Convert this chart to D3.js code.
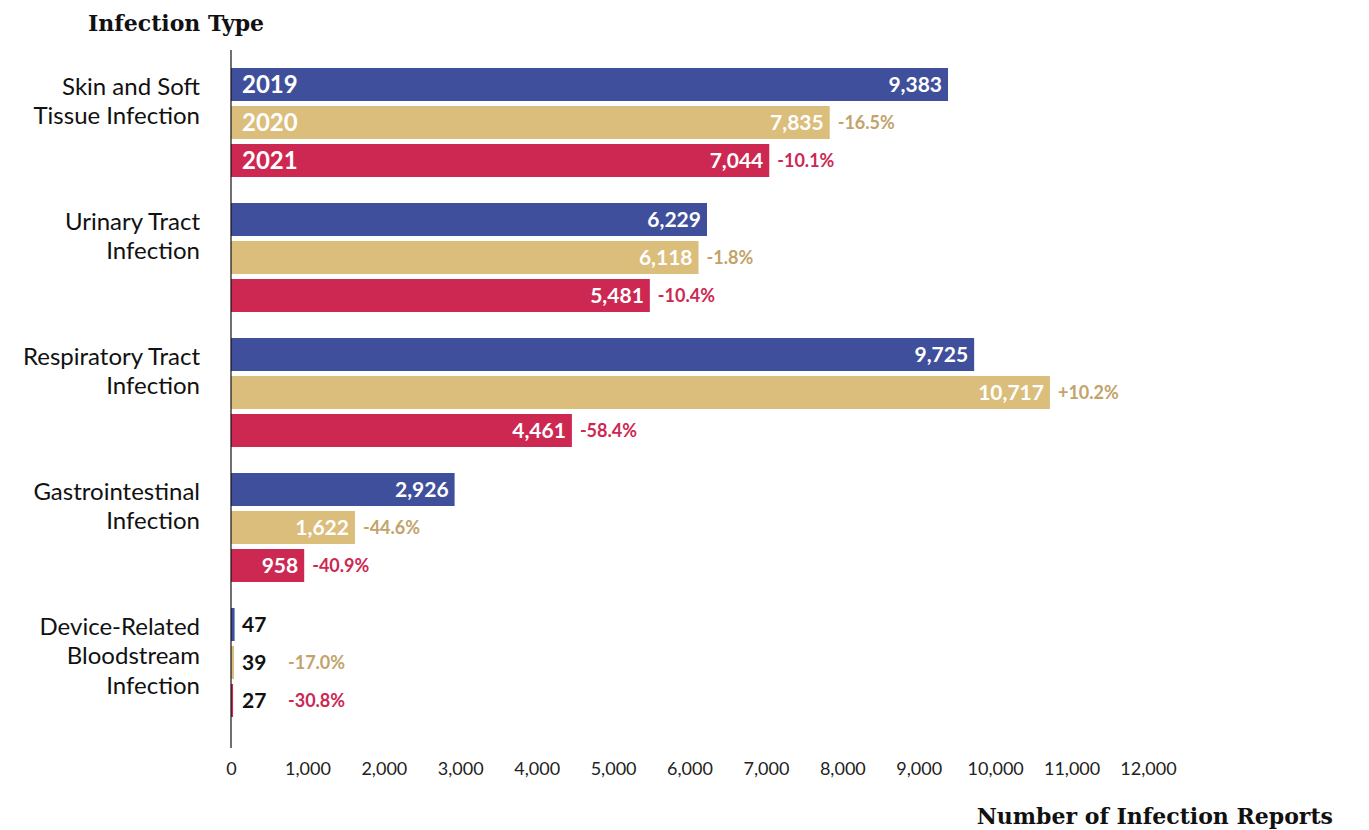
<!DOCTYPE html>
<html>
<head>
<meta charset="utf-8">
<script src="https://cdn.jsdelivr.net/npm/d3@7"></script>
<style>
  body { margin: 0; background: #fff; }
  text { font-family: Lato, "Open Sans", sans-serif; }
</style>
</head>
<body>
<div id="chart"></div>
<script>
// Chart data
var categories = [
  "Skin and Soft|Tissue Infection",
  "Urinary Tract|Infection",
  "Respiratory Tract|Infection",
  "Gastrointestinal|Infection",
  "Device-Related|Bloodstream|Infection"
];
var years = ["2019", "2020", "2021"];
var values2019 = [9383, 6229, 9725, 2926, 47];
var values2020 = [7835, 6118, 10717, 1622, 39];
var values2021 = [7044, 5481, 4461, 958, 27];
var xTicks = [0, 1000, 2000, 3000, 4000, 5000, 6000, 7000, 8000, 9000, 10000, 11000, 12000];

var barColors = { "2019": "#3f4f9c", "2020": "#dbbd7c", "2021": "#cc2852" };
var pctColors = { "2020": "#c2a36a", "2021": "#cc2852" };

var width = 1369, height = 830;

var svg = d3.select("#chart").append("svg")
  .attr("width", width)
  .attr("height", height);

// Scales
var x = d3.scaleLinear().domain([0, 12000]).range([231, 1148]);
var y0 = d3.scaleBand().domain(d3.range(categories.length)).range([68, 743]).padding(0);
var y1 = d3.scaleBand().domain(years).range([0, 109]).paddingInner(5 / 38).paddingOuter(0);

var series = [values2019, values2020, values2021];
var fmt = d3.format(",");

// Build rows
var rows = [];
categories.forEach(function(c, i) {
  years.forEach(function(yr, j) {
    var prev = j > 0 ? series[j - 1][i] : null;
    rows.push({
      cat: i,
      year: yr,
      value: series[j][i],
      pct: prev === null ? null : (series[j][i] - prev) / prev
    });
  });
});

// Bars
var bar = svg.append("g").selectAll("g")
  .data(rows)
  .enter()
  .append("g")
  .attr("transform", function(d) { return "translate(0," + (y0(d.cat) + y1(d.year)) + ")"; });

bar.append("rect")
  .attr("x", x(0))
  .attr("y", 0)
  .attr("width", function(d) { return Math.max(2, x(d.value) - x(0)); })
  .attr("height", y1.bandwidth())
  .attr("fill", function(d) { return barColors[d.year]; });

// Year labels in first group
bar.filter(function(d) { return d.cat === 0; })
  .append("text")
  .attr("x", x(0) + 11)
  .attr("y", y1.bandwidth() / 2)
  .attr("dy", "0.36em")
  .attr("fill", "#fff")
  .style("font-size", "24px")
  .style("font-weight", 700)
  .text(function(d) { return d.year; });

// Value labels
var inside = function(d) { return d.value > 500; };
bar.append("text")
  .attr("x", function(d) { return inside(d) ? x(d.value) - 6 : x(0) + 11; })
  .attr("y", y1.bandwidth() / 2)
  .attr("dy", "0.36em")
  .attr("text-anchor", function(d) { return inside(d) ? "end" : "start"; })
  .attr("fill", function(d) { return inside(d) ? "#fff" : "#111"; })
  .style("font-size", "21px")
  .style("font-weight", 700)
  .text(function(d) { return fmt(d.value); });

// Percent change labels
bar.filter(function(d) { return d.pct !== null; })
  .append("text")
  .attr("x", function(d) {
    if (inside(d)) return x(d.value) + 8;
    return x(0) + 11 + 46;
  })
  .attr("y", y1.bandwidth() / 2)
  .attr("dy", "0.36em")
  .attr("fill", function(d) { return pctColors[d.year]; })
  .style("font-size", "18px")
  .style("font-weight", 700)
  .text(function(d) { return (d.pct > 0 ? "+" : "") + (d.pct * 100).toFixed(1) + "%"; });

// Category labels
var catLabel = svg.append("g").selectAll("text")
  .data(categories)
  .enter()
  .append("text")
  .attr("text-anchor", "end")
  .attr("fill", "#111")
  .style("font-size", "24px")
  .attr("transform", function(d, i) { return "translate(200," + (y0(i) + 18) + ")"; });

catLabel.selectAll("tspan")
  .data(function(d) { return d.split("|"); })
  .enter()
  .append("tspan")
  .attr("x", 0)
  .attr("y", function(d, i) { return i * 29.5; })
  .attr("dy", "0.36em")
  .text(function(d) { return d; });

// Vertical axis line
svg.append("line")
  .attr("x1", x(0)).attr("x2", x(0))
  .attr("y1", 50).attr("y2", 748)
  .attr("stroke", "#111")
  .attr("stroke-width", 1.2);

// X axis
var xAxis = svg.append("g")
  .attr("transform", "translate(0,759)")
  .call(d3.axisBottom(x).tickValues(xTicks).tickSize(0).tickFormat(fmt));
xAxis.select(".domain").remove();
xAxis.selectAll("text")
  .attr("fill", "#222")
  .style("font-family", "Lato, sans-serif")
  .style("font-size", "18px");

// Titles
svg.append("text")
  .attr("x", 88)
  .attr("y", 31)
  .attr("fill", "#111")
  .style("font-family", "'DejaVu Serif', serif")
  .style("font-size", "22px")
  .style("font-weight", 700)
  .text("Infection Type");

svg.append("text")
  .attr("x", 1333)
  .attr("y", 824)
  .attr("text-anchor", "end")
  .attr("fill", "#111")
  .style("font-family", "'DejaVu Serif', serif")
  .style("font-size", "22px")
  .style("font-weight", 700)
  .text("Number of Infection Reports");
</script>
</body>
</html>
